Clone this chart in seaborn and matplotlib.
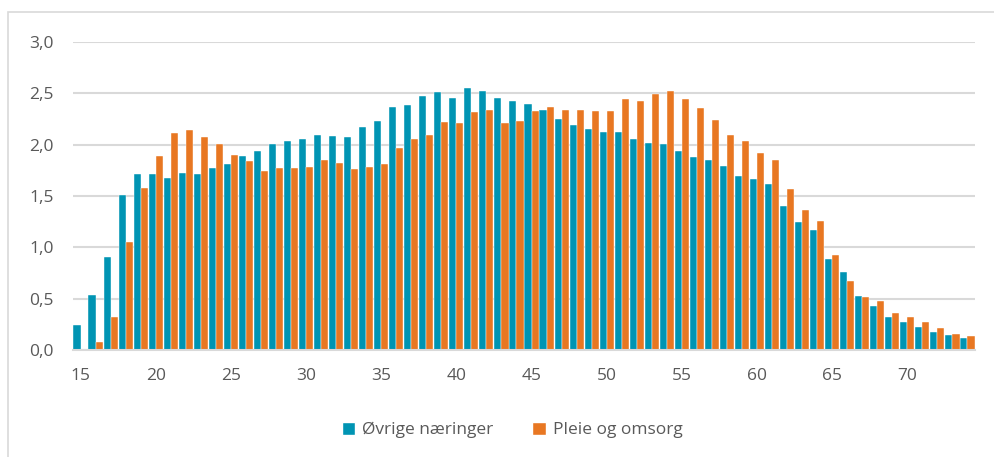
import pandas as pd
import matplotlib
matplotlib.use("Agg")
import matplotlib.pyplot as plt
import seaborn as sns
from matplotlib.patches import Rectangle, Patch

# Values
ages = list(range(15, 75))
ovrige = [0.24, 0.54, 0.91, 1.51, 1.71, 1.71, 1.68, 1.72, 1.71, 1.77,
          1.81, 1.89, 1.94, 2.01, 2.04, 2.06, 2.09, 2.08, 2.07, 2.17,
          2.23, 2.37, 2.39, 2.47, 2.51, 2.45, 2.55, 2.52, 2.45, 2.43,
          2.40, 2.34, 2.25, 2.19, 2.15, 2.12, 2.12, 2.06, 2.02, 2.01,
          1.94, 1.88, 1.85, 1.79, 1.69, 1.67, 1.62, 1.40, 1.25, 1.17,
          0.89, 0.76, 0.53, 0.43, 0.32, 0.27, 0.22, 0.18, 0.15, 0.12]
pleie = [0.01, 0.08, 0.32, 1.05, 1.58, 1.89, 2.11, 2.14, 2.07, 2.01,
         1.90, 1.84, 1.74, 1.77, 1.77, 1.78, 1.85, 1.82, 1.76, 1.78,
         1.81, 1.97, 2.06, 2.09, 2.22, 2.21, 2.32, 2.34, 2.21, 2.23,
         2.33, 2.37, 2.34, 2.34, 2.33, 2.33, 2.44, 2.43, 2.49, 2.52,
         2.44, 2.36, 2.24, 2.09, 2.04, 1.92, 1.85, 1.57, 1.36, 1.26,
         0.93, 0.67, 0.52, 0.48, 0.36, 0.32, 0.27, 0.21, 0.16, 0.14]
series_names = ["Øvrige næringer", "Pleie og omsorg"]
colors = ["#0094B3", "#E87722"]
x_labels = ["15", "20", "25", "30", "35", "40", "45", "50", "55", "60", "65", "70"]
y_labels = ["0,0", "0,5", "1,0", "1,5", "2,0", "2,5", "3,0"]

df = pd.DataFrame({
    "age": ages * 2,
    "series": [series_names[0]] * len(ages) + [series_names[1]] * len(ages),
    "value": ovrige + pleie,
})

sns.set_style("white")
plt.rcParams["font.family"] = ["Open Sans", "DejaVu Sans"]
text_color = "#595959"
grid_color = "#D9D9D9"

fig, ax = plt.subplots(figsize=(9.94, 4.57), dpi=100)
fig.subplots_adjust(left=73 / 994, right=975 / 994, top=1 - 42 / 457, bottom=1 - 350 / 457)

sns.barplot(data=df, x="age", y="value", hue="series", palette=colors, saturation=1,
            width=0.94, ax=ax, legend=False, edgecolor="white", linewidth=0.3)

ax.set_ylim(0, 3.0)
ax.set_xlim(-0.5, len(ages) - 0.5)
ax.set_yticks([i * 0.5 for i in range(7)])
ax.set_yticklabels(y_labels)
ax.set_xticks([ages.index(int(l)) for l in x_labels])
ax.set_xticklabels(x_labels)
ax.set_xlabel("")
ax.set_ylabel("")

ax.yaxis.grid(True, color=grid_color, linewidth=1.5)
ax.set_axisbelow(True)
for side in ["top", "right", "left"]:
    ax.spines[side].set_visible(False)
ax.spines["bottom"].set_color(grid_color)
ax.spines["bottom"].set_linewidth(1.5)
ax.tick_params(axis="both", length=0, labelsize=12.5, colors=text_color)
ax.tick_params(axis="y", pad=14)
ax.tick_params(axis="x", pad=13)

handles = [Patch(facecolor=c, label=n) for c, n in zip(colors, series_names)]
fig.legend(handles=handles, loc="center", bbox_to_anchor=(512 / 994, 1 - 430 / 457),
           ncol=2, frameon=False, fontsize=12.5, labelcolor=text_color,
           handlelength=0.8, handleheight=0.8, handletextpad=0.4, columnspacing=2.2)

# chart area frame
fig.patches.append(Rectangle((8 / 994, -0.1), 1.2, 1.1 - 12 / 457, transform=fig.transFigure,
                             fill=False, edgecolor=grid_color, linewidth=1.2))

fig.savefig("out.png", dpi=100)
